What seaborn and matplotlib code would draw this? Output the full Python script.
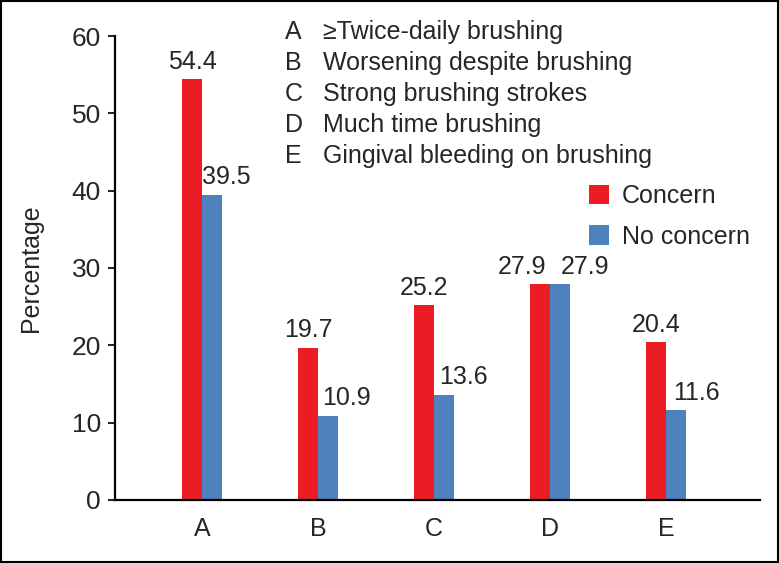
import matplotlib.pyplot as plt
import pandas as pd
import seaborn as sns
from matplotlib.patches import Rectangle

# ─── データ ───────────────────────────────────────────
categories = ["A", "B", "C", "D", "E"]
descriptions = [
    "\u2265Twice-daily brushing",
    "Worsening despite brushing",
    "Strong brushing strokes",
    "Much time brushing",
    "Gingival bleeding on brushing",
]
concern = [54.4, 19.7, 25.2, 27.9, 20.4]
no_concern = [39.5, 10.9, 13.6, 27.9, 11.6]
groups = ["Concern", "No concern"]

df = pd.DataFrame(
    {
        "cat": categories * 2,
        "value": concern + no_concern,
        "group": [groups[0]] * 5 + [groups[1]] * 5,
    }
)

PALETTE = {"Concern": "#EC1C24", "No concern": "#4F81BD"}
FS = 18

sns.set_style("white")
plt.rcParams["font.family"] = ["Liberation Sans", "DejaVu Sans"]

fig = plt.figure(figsize=(7.79, 5.63), dpi=100)
ax = fig.add_axes([0.1476, 0.112, 0.8280, 0.824])

sns.barplot(
    data=df,
    x="cat",
    y="value",
    hue="group",
    hue_order=groups,
    order=categories,
    palette=PALETTE,
    width=0.345,
    saturation=1,
    linewidth=0,
    ax=ax,
)

ax.set_xlim(-0.75, 4.81)
ax.set_ylim(0, 60)
ax.set_yticks(range(0, 61, 10))
ax.set_xlabel("")
ax.set_ylabel("Percentage", fontsize=FS, labelpad=21)
ax.tick_params(axis="y", length=5, width=1.5, direction="out", labelsize=19, pad=5, left=True)
ax.tick_params(axis="x", length=0, labelsize=FS, pad=12)
for s in ["top", "right"]:
    ax.spines[s].set_visible(False)
for s in ["left", "bottom"]:
    ax.spines[s].set_linewidth(1.6)
    ax.spines[s].set_color("black")

# 値ラベル
offsets = [
    {"D": -13},
    {"A": 10, "B": 13, "C": 14, "D": 18, "E": 15},
]
for gi, cont in enumerate(ax.containers):
    for ci, bar in enumerate(cont):
        h = bar.get_height()
        dx = offsets[gi].get(categories[ci], 0)
        ax.annotate(
            f"{h:.1f}",
            xy=(bar.get_x() + bar.get_width() / 2, h),
            xytext=(dx, 4),
            textcoords="offset points",
            ha="center",
            va="bottom",
            fontsize=FS,
        )

# カテゴリ説明
for i, (c, d) in enumerate(zip(categories, descriptions)):
    y = 1 - (32 + i * 31) / 563
    fig.text(285 / 779, y, c, fontsize=FS, va="center", ha="left")
    fig.text(323 / 779, y, d, fontsize=FS, va="center", ha="left")

ax.legend(
    loc="upper left",
    bbox_to_anchor=(0.735, 0.68),
    frameon=False,
    fontsize=FS,
    handlelength=0.8,
    handleheight=0.8,
    handletextpad=0.5,
    labelspacing=0.65,
    borderaxespad=0,
    borderpad=0,
)

fig.patches.append(
    Rectangle((0.001, 0.001), 0.998, 0.998, transform=fig.transFigure,
              fill=False, edgecolor="black", linewidth=1.5)
)

fig.savefig("out.png", dpi=100)
